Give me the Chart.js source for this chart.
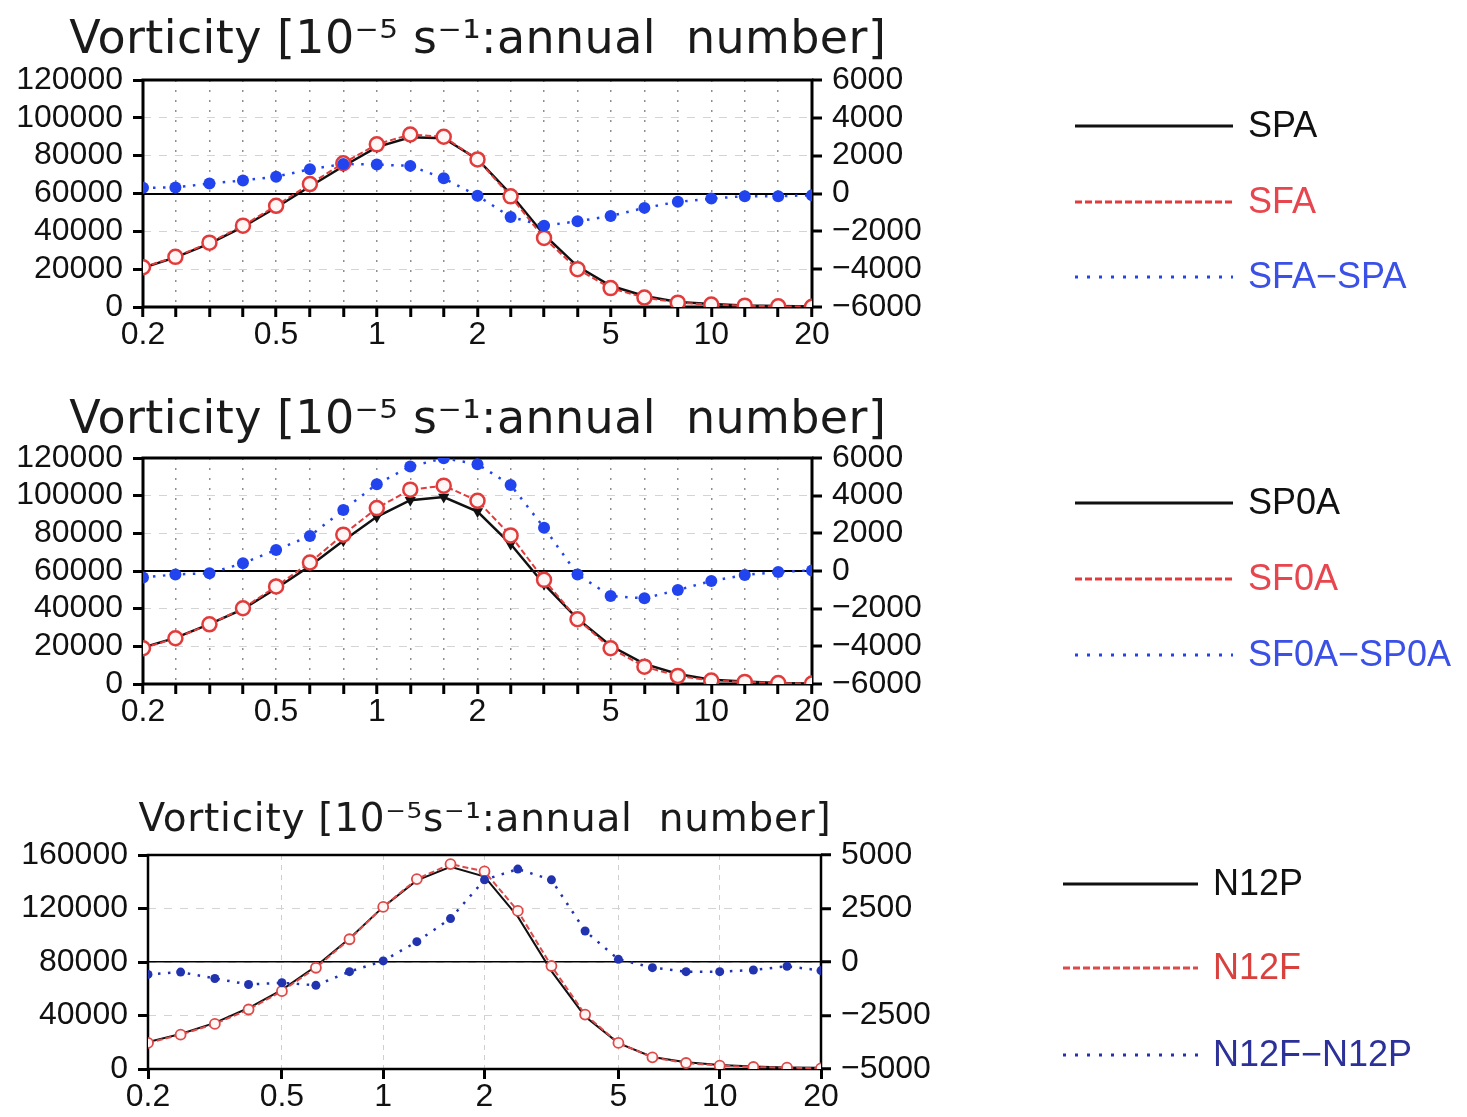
<!DOCTYPE html>
<html>
<head>
<meta charset="utf-8">
<script src="https://cdn.jsdelivr.net/npm/chart.js@4"></script>
<style>
  body { margin: 0; background: #fff; }
  canvas { position: absolute; left: 0; display: block; }
</style>
</head>
<body>
<canvas id="c1" width="1467" height="372" style="top:0"></canvas>
<canvas id="c2" width="1467" height="373" style="top:372px"></canvas>
<canvas id="c3" width="1467" height="372" style="top:745px"></canvas>
<script>
// periods on the log axis, and the ones that get a label
const periods = [0.2, 0.25, 0.316, 0.398, 0.5, 0.631, 0.794, 1, 1.259, 1.585, 2,
                 2.512, 3.162, 3.981, 5, 6.31, 7.943, 10, 12.59, 15.85, 20];
const periodLabels = [0.2, 0.5, 1, 2, 5, 10, 20];

const countTicks = [0, 20000, 40000, 60000, 80000, 100000, 120000];
const diffTicks = [-6000, -4000, -2000, 0, 2000, 4000, 6000];
const countTicks3 = [0, 40000, 80000, 120000, 160000];
const diffTicks3 = [-5000, -2500, 0, 2500, 5000];

const title12 = 'Vorticity [10\u207B\u2075 s\u207B\u00B9:annual  number]';
const title3 = 'Vorticity [10\u207B\u2075s\u207B\u00B9:annual  number]';

// panel 1
const names1 = ['SPA', 'SFA', 'SFA\u2212SPA'];
const spa = [20700, 26200, 33500, 42300, 52600, 63700, 74400, 84500, 89700, 89200, 78100,
             59700, 38200, 21500, 11200, 5800, 2700, 1600, 850, 500, 250];
const sfa = [21000, 26500, 34000, 43000, 53500, 65000, 76000, 86000, 91200, 90000, 78000,
             58500, 36500, 20000, 10000, 5000, 2300, 1300, 700, 350, 150];
const sfaDiff = [300, 320, 530, 690, 890, 1280, 1560, 1530, 1460, 800, -120,
                 -1240, -1700, -1470, -1190, -760, -440, -270, -140, -140, -90];

// panel 2
const names2 = ['SP0A', 'SF0A', 'SF0A\u2212SP0A'];
const sp0a = [19400, 24500, 31800, 39800, 50700, 62600, 76100, 88800, 97600, 99300, 91600,
              74300, 53000, 34600, 20300, 10700, 5300, 2300, 1300, 550, 170];
const sf0a = [19000, 24300, 31700, 40200, 51800, 64500, 79300, 93400, 103200, 105300, 97300,
              78900, 55300, 34400, 19000, 9200, 4300, 1800, 1100, 500, 200];
const sf0aDiff = [-350, -180, -120, 410, 1120, 1860, 3240, 4610, 5550, 5990, 5670,
                  4570, 2300, -180, -1330, -1450, -1010, -530, -210, -50, 30];

// panel 3
const names3 = ['N12P', 'N12F', 'N12F\u2212N12P'];
const n12p = [20100, 26200, 34500, 45600, 59200, 76800, 97500, 121200, 141000, 151200, 143900,
              113900, 73200, 39300, 19400, 9000, 5000, 3000, 1900, 1200, 900];
const n12f = [19500, 25700, 33700, 44500, 58200, 75700, 97000, 121200, 142000, 153200, 147700,
              118200, 77000, 40700, 19500, 8700, 4500, 2500, 1500, 1000, 500];
const n12Diff = [-580, -470, -770, -1050, -970, -1090, -450, 50, 950, 2030, 3840,
                 4340, 3840, 1450, 125, -265, -450, -450, -375, -200, -400];

const tickFont = { family: 'Liberation Sans', size: 32, lineHeight: 1 };

const pts = values => periods.map((p, i) => ({ x: p, y: values[i] }));
const fixTicks = values => scale => { scale.ticks = values.map(v => ({ value: v })); };
const signed = v => (v < 0 ? '\u2212' + (-v) : String(v));

// frame round the plot area, a wide-spaced title and a legend to the right
const panelDecor = {
  id: 'panelDecor',
  beforeDatasetsDraw(chart, args, opts) {
    const { ctx, chartArea: a } = chart;
    ctx.save();
    ctx.strokeStyle = '#000';
    ctx.lineWidth = opts.frameWidth;
    ctx.strokeRect(a.left, a.top, a.right - a.left, a.bottom - a.top);
    ctx.restore();
  },
  afterDraw(chart, args, opts) {
    const { ctx, chartArea: a } = chart;
    ctx.save();

    ctx.font = opts.titleSize + 'px "DejaVu Sans"';
    ctx.letterSpacing = '0px';
    const natural = ctx.measureText(opts.title).width;
    const spacing = (opts.titleWidth - natural) / [...opts.title].length;
    ctx.letterSpacing = spacing.toFixed(2) + 'px';
    ctx.fillStyle = '#1a1a1a';
    ctx.textAlign = 'center';
    ctx.textBaseline = 'alphabetic';
    ctx.fillText(opts.title, (a.left + a.right) / 2 + spacing / 2, opts.titleBase);
    ctx.letterSpacing = '0px';

    const x0 = a.right + opts.offset;
    ctx.font = '36px "Liberation Sans"';
    ctx.textAlign = 'left';
    ctx.textBaseline = 'middle';
    chart.data.datasets.forEach((ds, i) => {
      const y = a.top + opts.rows[i];
      ctx.beginPath();
      ctx.setLineDash(opts.dashes[i]);
      ctx.strokeStyle = ds.borderColor;
      ctx.lineWidth = 3;
      ctx.moveTo(x0, y);
      ctx.lineTo(x0 + opts.length, y);
      ctx.stroke();
      ctx.setLineDash([]);
      ctx.fillStyle = opts.textColors[i];
      ctx.fillText(ds.label, x0 + opts.length + 15, y + 1);
    });
    ctx.restore();
  }
};

function drawPanel(id, p) {
  new Chart(document.getElementById(id), {
    type: 'line',
    data: {
      datasets: [
        {
          label: p.names[0], data: pts(p.base), yAxisID: 'y', order: 2,
          borderColor: '#111', borderWidth: p.thin ? 2 : 2.5,
          pointStyle: 'triangle', rotation: 180, pointRadius: p.thin ? 0 : 4,
          pointBackgroundColor: '#111', pointBorderColor: '#111'
        },
        {
          label: p.names[1], data: pts(p.future), yAxisID: 'y', order: 1,
          borderColor: p.red, borderWidth: 2, borderDash: [6, 3],
          pointStyle: 'circle', pointRadius: p.thin ? 5 : 7, pointBorderWidth: p.thin ? 1.8 : 2.5,
          pointBorderColor: p.red, pointBackgroundColor: '#fff7f5'
        },
        {
          label: p.names[2], data: pts(p.diff), yAxisID: 'y1', order: 0,
          borderColor: p.blue, borderWidth: 2.5, borderDash: [2.5, 7.5],
          pointStyle: 'circle', pointRadius: p.thin ? 4.5 : 6, pointBorderWidth: 0,
          pointBackgroundColor: p.blue
        }
      ]
    },
    options: {
      responsive: false,
      animation: false,
      events: [],
      layout: { padding: { left: 0, top: p.padTop, right: p.padRight, bottom: p.padBottom } },
      scales: {
        x: {
          type: 'logarithmic', min: 0.2, max: 20,
          afterBuildTicks: fixTicks(p.xTicks),
          afterFit: s => { s.height = p.xHeight; },
          border: { display: false, dash: p.thin ? [5, 5] : [2, 8] },
          grid: {
            color: p.thin ? '#cfcfcf' : '#8f8f8f', lineWidth: p.thin ? 1 : 1.5,
            tickColor: '#000', tickWidth: 3, tickLength: 10, tickBorderDash: []
          },
          ticks: {
            autoSkip: false, maxRotation: 0, padding: 2, color: '#111', font: tickFont,
            callback: v => (periodLabels.includes(v) ? String(v) : '')
          }
        },
        y: {
          position: 'left', min: p.left[0], max: p.left[p.left.length - 1],
          afterBuildTicks: fixTicks(p.left),
          afterFit: s => { s.width = p.leftWidth; },
          border: { display: false, dash: [8, 8] },
          grid: {
            color: '#d4d4d4', lineWidth: 1,
            tickColor: '#000', tickWidth: 3, tickLength: 10, tickBorderDash: []
          },
          ticks: { padding: 10, color: '#111', font: tickFont, callback: v => String(v) }
        },
        y1: {
          position: 'right', min: p.right[0], max: p.right[p.right.length - 1],
          afterBuildTicks: fixTicks(p.right),
          afterFit: s => { s.width = 125; },
          border: { display: false },
          grid: {
            color: c => (c.tick && c.tick.value === 0 ? '#000' : 'rgba(0,0,0,0)'),
            lineWidth: p.thin ? 1.5 : 2,
            tickColor: '#000', tickWidth: 3, tickLength: 10, tickBorderDash: []
          },
          ticks: { padding: 10, color: '#111', font: tickFont, callback: signed }
        }
      },
      plugins: {
        legend: { display: false },
        tooltip: { enabled: false },
        title: { display: false },
        panelDecor: {
          frameWidth: p.thin ? 2.5 : 3,
          title: p.title, titleSize: p.titleSize, titleWidth: p.titleWidth, titleBase: p.titleBase,
          offset: p.legendOffset, length: p.legendLength, rows: p.legendRows,
          dashes: [[], [7, 3], [3, 9]],
          textColors: p.textColors
        }
      }
    },
    plugins: [panelDecor]
  });
}

drawPanel('c1', {
  names: names1, base: spa, future: sfa, diff: sfaDiff,
  left: countTicks, right: diffTicks, xTicks: periods,
  title: title12, titleSize: 46, titleWidth: 817, titleBase: 53,
  leftWidth: 143, padTop: 80, padRight: 530, padBottom: 15, xHeight: 50,
  red: '#e23b3b', blue: '#2244ee',
  legendOffset: 263, legendLength: 158, legendRows: [46, 122, 197],
  textColors: ['#111', '#e8464f', '#3b50e6']
});

drawPanel('c2', {
  names: names2, base: sp0a, future: sf0a, diff: sf0aDiff,
  left: countTicks, right: diffTicks, xTicks: periods,
  title: title12, titleSize: 46, titleWidth: 817, titleBase: 61,
  leftWidth: 143, padTop: 86, padRight: 530, padBottom: 11, xHeight: 50,
  red: '#e23b3b', blue: '#2244ee',
  legendOffset: 263, legendLength: 158, legendRows: [45, 121, 197],
  textColors: ['#111', '#e8464f', '#3b50e6']
});

drawPanel('c3', {
  names: names3, base: n12p, future: n12f, diff: n12Diff,
  left: countTicks3, right: diffTicks3, xTicks: periodLabels,
  title: title3, titleSize: 39, titleWidth: 693, titleBase: 86,
  leftWidth: 148, padTop: 110, padRight: 521, padBottom: 0, xHeight: 48, thin: true,
  red: '#dd4a4a', blue: '#2233b0',
  legendOffset: 242, legendLength: 135, legendRows: [29, 113, 200],
  textColors: ['#111', '#d9413f', '#2c3199']
});
</script>
</body>
</html>
